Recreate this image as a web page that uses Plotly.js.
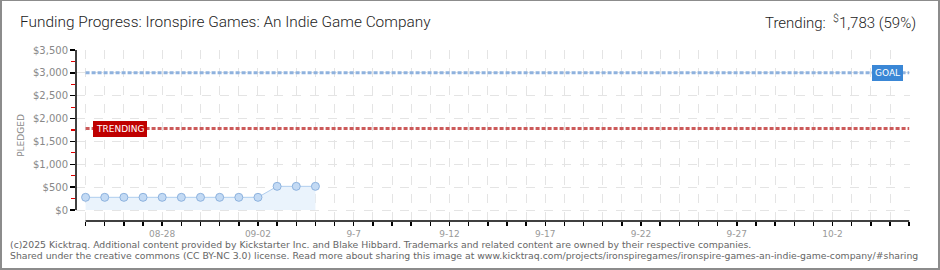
<!DOCTYPE html>
<html>
<head>
<meta charset="utf-8">
<script src="https://cdn.plot.ly/plotly-3.0.1.min.js"></script>
<style>
html,body{margin:0;padding:0;background:#fff;}
#wrap{position:relative;width:940px;height:270px;}
#chart{position:absolute;left:0;top:0;width:940px;height:270px;}
#frame{position:absolute;left:0;top:0;width:940px;height:270px;box-sizing:border-box;border:2px solid #8c8c8c;border-top-width:1px;pointer-events:none;}
</style>
</head>
<body>
<div id="wrap"><div id="chart"></div><div id="frame"></div></div>
<script>
// ---- data ----
const dates = ['2025-08-24','2025-08-25','2025-08-26','2025-08-27','2025-08-28','2025-08-29','2025-08-30','2025-08-31','2025-09-01','2025-09-02','2025-09-03','2025-09-04','2025-09-05'];
const pledged = [278,278,278,278,278,278,278,278,278,278,518,518,518];
const goal = 3000;
const trending = 1783;
const trendingPct = 59;
const tickDates = ['2025-08-28','2025-09-02','2025-09-07','2025-09-12','2025-09-17','2025-09-22','2025-09-27','2025-10-02'];
const tickLabels = ['08-28','09-02','9-7','9-12','9-17','9-22','9-27','10-2'];
const axisStart = '2025-08-24';
const axisEnd = '2025-10-06';
const titleText = 'Funding Progress: Ironspire Games: An Indie Game Company';
const footer1 = '(c)2025 Kicktraq. Additional content provided by Kickstarter Inc. and Blake Hibbard. Trademarks and related content are owned by their respective companies.';
const footer2 = 'Shared under the creative commons (CC BY-NC 3.0) license. Read more about sharing this image at www.kicktraq.com/projects/ironspiregames/ironspire-games-an-indie-game-company/#sharing';

const gridCol = '#e4e4e4';

const trace = {
  x: dates, y: pledged, type: 'scatter', mode: 'lines+markers',
  fill: 'tozeroy', fillcolor: '#eaf3fc',
  line: {color: '#afcdee', width: 1},
  marker: {size: 8, color: '#c3daf4', line: {color: '#8db2de', width: 1}},
  hoverinfo: 'skip'
};

const layout = {
  width: 940, height: 270,
  margin: {l: 76, r: 30, t: 50, b: 49},
  paper_bgcolor: '#fff', plot_bgcolor: '#fff',
  showlegend: false,
  font: {family: 'DejaVu Sans', color: '#777'},
  title: {text: titleText, x: 20/940, xref: 'container', xanchor: 'left', y: 1 - 22/270, yref: 'container', yanchor: 'middle',
          font: {family: 'Roboto', size: 15.4, color: '#222', weight: 300}},
  xaxis: {
    type: 'date', range: ['2025-08-23 12:00', '2025-10-06 01:00'],
    tickvals: tickDates, ticktext: tickLabels,
    ticks: 'outside', ticklen: 4, tickcolor: '#000', tickwidth: 1.5,
    tickfont: {size: 9, color: '#999'},
    showgrid: true, gridcolor: gridCol, griddash: 'dash', gridwidth: 1,
    minor: {dtick: 86400000, tick0: axisStart, ticks: 'outside', ticklen: 4, tickcolor: '#000', tickwidth: 1.5,
            showgrid: true, gridcolor: gridCol, griddash: 'dash', gridwidth: 1},
    showline: false, zeroline: false, fixedrange: true
  },
  yaxis: {
    range: [-240, 3500], tick0: 0, dtick: 500,
    tickprefix: '$', tickformat: ',d',
    ticks: 'outside', ticklen: 5, tickcolor: '#000', tickwidth: 1.5,
    tickfont: {size: 10, color: '#888'},
    showgrid: true, gridcolor: gridCol, griddash: 'dash', gridwidth: 1,
    minor: {dtick: 250, tick0: 0, ticks: 'outside', ticklen: 4, tickcolor: '#e00000', tickwidth: 1.2, showgrid: false},
    showline: false, zeroline: false, fixedrange: true,
    title: {text: 'PLEDGED', font: {size: 9, color: '#888'}, standoff: 6}
  },
  shapes: [
    {type: 'line', xref: 'paper', yref: 'y', x0: 0, x1: 0, y0: 0, y1: 3500, line: {color: '#000', width: 1.5}},
    {type: 'line', xref: 'x', yref: 'paper', x0: axisStart, x1: axisEnd, y0: 0, y1: 0, line: {color: '#000', width: 1.5}},
    {type: 'line', xref: 'x', yref: 'y', x0: axisStart, x1: axisEnd, y0: goal, y1: goal, line: {color: '#8fb2de', width: 3, dash: '4px,2px'}},
    {type: 'line', xref: 'x', yref: 'y', x0: axisStart, x1: axisEnd, y0: trending, y1: trending, line: {color: '#cc5a5a', width: 3, dash: '4px,2px'}}
  ],
  annotations: [
    {xref: 'x', yref: 'y', x: axisStart, y: trending, xanchor: 'left', yanchor: 'middle', xshift: 7,
     text: 'TRENDING', showarrow: false, bgcolor: '#bf0000', bordercolor: '#bf0000', borderpad: 2,
     font: {family: 'DejaVu Sans', size: 9, color: '#fff'}},
    {xref: 'x', yref: 'y', x: axisEnd, y: goal, xanchor: 'right', yanchor: 'middle', xshift: -6,
     text: 'GOAL', showarrow: false, bgcolor: '#3a87d6', bordercolor: '#3a87d6', borderpad: 2,
     font: {family: 'DejaVu Sans', size: 9, color: '#fff'}},
    {xref: 'paper', yref: 'paper', x: (918-76)/834, y: 1 + (50-22)/171, xanchor: 'right', yanchor: 'middle',
     text: 'Trending:  <sup>$</sup>' + trending.toLocaleString('en-US') + ' (' + trendingPct + '%)', showarrow: false,
     font: {family: 'Roboto', size: 15, color: '#222', weight: 300}},
    {xref: 'paper', yref: 'paper', x: (8-76)/834, y: (221-244)/171, xanchor: 'left', yanchor: 'middle',
     text: footer1, showarrow: false, font: {family: 'DejaVu Sans', size: 9.3, color: '#666'}},
    {xref: 'paper', yref: 'paper', x: (8-76)/834, y: (221-255.5)/171, xanchor: 'left', yanchor: 'middle',
     text: footer2, showarrow: false, font: {family: 'DejaVu Sans', size: 9.3, color: '#666'}}
  ]
};

Plotly.newPlot('chart', [trace], layout, {staticPlot: true, displayModeBar: false});
</script>
</body>
</html>
